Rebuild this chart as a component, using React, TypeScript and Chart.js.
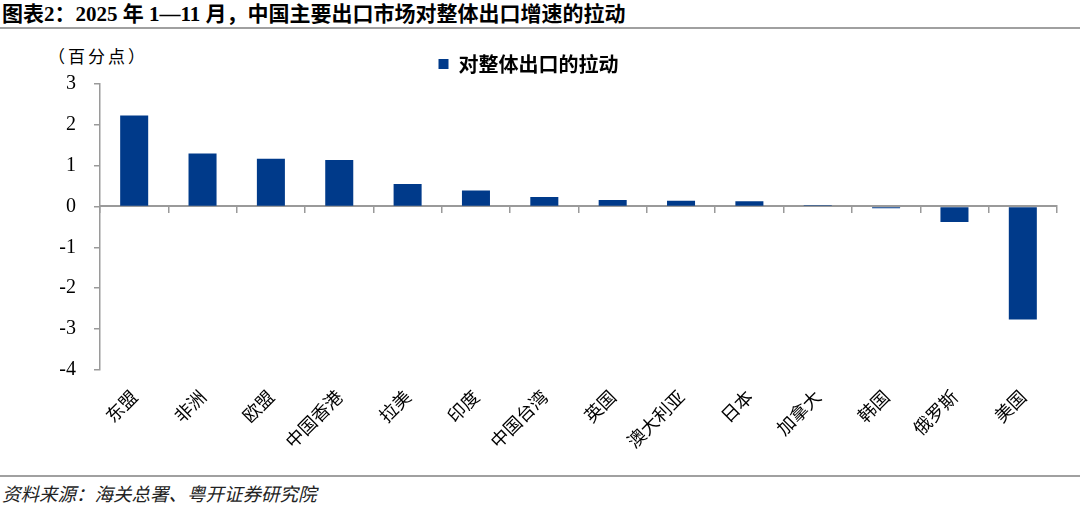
import React, { useEffect, useRef } from "react";
import { Chart, registerables } from "chart.js";

Chart.register(...registerables);

const categories = ["东盟", "非洲", "欧盟", "中国香港", "拉美", "印度", "中国台湾", "英国", "澳大利亚", "日本", "加拿大", "韩国", "俄罗斯", "美国"];
const pullValues = [2.23, 1.3, 1.17, 1.14, 0.55, 0.39, 0.23, 0.16, 0.14, 0.13, 0.03, -0.04, -0.38, -2.77];
const seriesName = "对整体出口的拉动";
const yMin = -4;
const yMax = 3;

const titleText = "图表2：2025 年 1—11 月，中国主要出口市场对整体出口增速的拉动";
const unitText = "（百分点）";
const sourceText = "资料来源：海关总署、粤开证券研究院";

const SERIF = "'Liberation Serif', 'Noto Sans CJK SC', serif";
const CJK = "'Noto Sans CJK SC', sans-serif";

export default function App() {
  const ref = useRef<HTMLCanvasElement | null>(null);

  useEffect(() => {
    document.body.style.margin = "0";
    if (!ref.current) return;
    const chart = new Chart(ref.current, {
      type: "bar",
      data: {
        labels: categories,
        datasets: [
          {
            label: seriesName,
            data: pullValues,
            backgroundColor: "#003A8A",
            borderColor: "#003A8A",
            borderWidth: 0,
            categoryPercentage: 0.82,
            barPercentage: 0.5,
            xAxisID: "x",
            yAxisID: "y",
          },
        ],
      },
      options: {
        animation: false,
        responsive: false,
        maintainAspectRatio: false,
        layout: { padding: { top: 14, left: 0, right: 23, bottom: 2 } },
        plugins: {
          legend: {
            display: true,
            position: "top",
            align: "center",
            labels: {
              boxWidth: 10,
              boxHeight: 10,
              padding: 5,
              color: "#000",
              font: { family: CJK, size: 20, weight: "bold" },
            },
          },
          tooltip: { enabled: false },
        },
        scales: {
          x: {
            type: "category",
            position: "bottom",
            grid: { display: false, drawTicks: false },
            border: { display: false },
            ticks: {
              minRotation: 45,
              maxRotation: 45,
              padding: 16,
              color: "#000",
              font: { family: CJK, size: 18 },
            },
          },
          xZero: {
            type: "category",
            position: { y: 0 },
            offset: true,
            grid: {
              display: true,
              offset: true,
              drawOnChartArea: false,
              drawTicks: true,
              tickLength: 6,
              color: "#9a9a9a",
              lineWidth: 1.5,
            },
            border: { display: true, color: "#9a9a9a", width: 2 },
            ticks: { display: false },
          },
          y: {
            type: "linear",
            position: "left",
            min: yMin,
            max: yMax,
            afterFit: (scale: any) => {
              scale.width = 100;
            },
            ticks: {
              stepSize: 1,
              padding: 18,
              color: "#000",
              font: { family: SERIF, size: 20 },
            },
            grid: {
              display: true,
              drawOnChartArea: false,
              drawTicks: true,
              tickLength: 6,
              color: "#9a9a9a",
              lineWidth: 1.5,
            },
            border: { display: true, color: "#9a9a9a", width: 1.5 },
          },
        },
      },
    });
    return () => chart.destroy();
  }, []);

  return (
    <div style={{ position: "relative", width: 1080, height: 506, background: "#fff", overflow: "hidden" }}>
      <div
        style={{
          position: "absolute",
          left: 2,
          top: 1,
          fontFamily: SERIF,
          fontWeight: "bold",
          fontSize: 21,
          color: "#000",
          whiteSpace: "nowrap",
          lineHeight: "26px",
        }}
      >
        {titleText}
      </div>
      <div style={{ position: "absolute", left: 0, top: 27, width: 1080, height: 2, background: "#a0a0a0" }} />
      <div
        style={{
          position: "absolute",
          left: 48,
          top: 44,
          fontFamily: CJK,
          fontSize: 17,
          letterSpacing: 3,
          color: "#000",
          whiteSpace: "nowrap",
          lineHeight: "24px",
        }}
      >
        {unitText}
      </div>
      <canvas ref={ref} width={1080} height={435} style={{ position: "absolute", left: 0, top: 35, width: 1080, height: 435 }} />
      <div style={{ position: "absolute", left: 0, top: 475, width: 1080, height: 2, background: "#a0a0a0" }} />
      <div
        style={{
          position: "absolute",
          left: 2,
          top: 481,
          fontFamily: CJK,
          fontStyle: "italic",
          fontSize: 18.5,
          color: "#222",
          whiteSpace: "nowrap",
          lineHeight: "24px",
        }}
      >
        {sourceText}
      </div>
    </div>
  );
}
